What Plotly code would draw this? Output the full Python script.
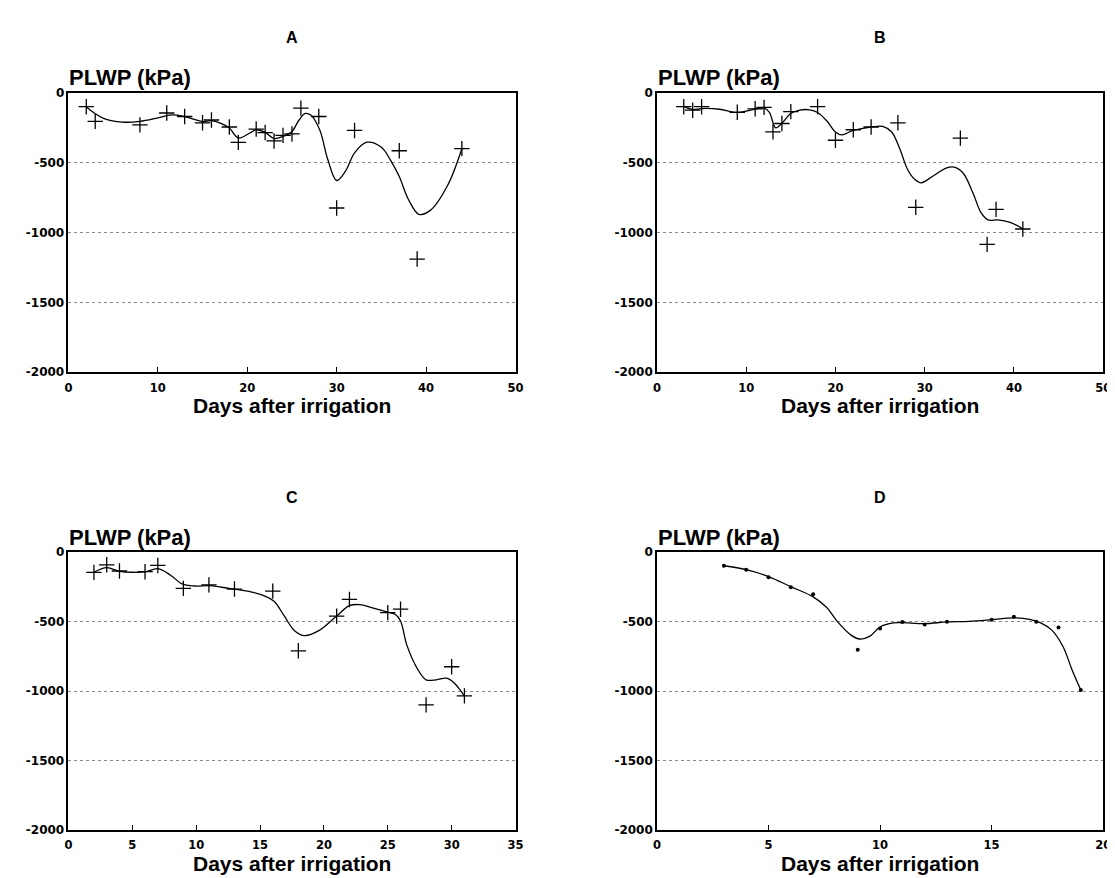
import plotly.graph_objects as go

# ---------------- data ----------------
# Panel A
A_days = [2, 3, 8, 11, 13, 15, 16, 18, 19, 21, 22, 23, 24, 25, 26, 28, 30, 32, 37, 39, 44]
A_plwp = [-100, -205, -230, -145, -170, -215, -195, -245, -355, -260, -285, -345, -305, -295,
          -110, -170, -825, -270, -415, -1190, -400]
A_fit_days = [2, 3, 4, 6, 8, 10, 11.5, 13, 15, 16, 17, 18, 19, 20.3, 21, 22, 23, 24, 25, 25.8,
              26.5, 27.1, 28.1, 29, 30, 31, 32, 33.4, 35, 36, 37, 38, 39.2, 40.5, 42.4, 44]
A_fit = [-100, -150, -185, -210, -205, -180, -159, -171, -206, -199, -218, -253, -324, -288,
         -265, -284, -328, -312, -277, -195, -148, -160, -265, -476, -628, -560, -430, -354,
         -390, -480, -600, -760, -870, -840, -664, -401]

# Panel B
B_days = [3, 4, 5, 9, 11, 12, 13, 14, 15, 18, 20, 22, 24, 27, 29, 34, 37, 38, 41]
B_plwp = [-100, -125, -100, -140, -115, -105, -280, -220, -135, -100, -340, -265, -245, -215,
          -820, -325, -1085, -835, -975]
B_fit_days = [3, 4, 5, 7, 9, 10.5, 12, 12.6, 13.3, 14, 15, 16, 17.1, 18, 19, 20, 20.7, 22, 24,
              25.3, 26.3, 27.2, 28.1, 28.9, 29.6, 30.9, 32.4, 33.3, 34.3, 35.4, 36.3, 37.1, 38.2,
              39.5, 41]
B_fit = [-98, -120, -113, -118, -141, -124, -110, -140, -251, -218, -148, -124, -122, -141, -199,
         -281, -302, -270, -246, -241, -281, -399, -551, -621, -645, -598, -539, -532, -574,
         -715, -856, -910, -910, -926, -973]

# Panel C
C_days = [2, 3, 4, 6, 7, 9, 11, 13, 16, 18, 21, 22, 25, 26, 28, 30, 31]
C_plwp = [-145, -90, -135, -140, -95, -260, -235, -265, -280, -710, -460, -340, -435, -410,
          -1100, -825, -1035]
C_fit_days = [2, 3, 4, 5, 6, 7, 8, 8.9, 9.9, 11, 12, 13, 14.2, 15.3, 16.1, 16.9, 17.7, 18.5,
              19.6, 21, 22, 22.8, 23.8, 25, 25.6, 26, 26.5, 27.3, 28, 28.8, 29.6, 30.2, 31]
C_fit = [-144, -111, -137, -144, -141, -118, -165, -228, -243, -240, -252, -266, -283, -313,
         -353, -459, -565, -601, -565, -459, -384, -377, -400, -431, -448, -495, -671, -836,
         -919, -919, -907, -942, -1036]

# Panel D
D_days = [3, 4, 5, 6, 7, 9, 10, 11, 12, 13, 15, 16, 17, 18, 19]
D_plwp = [-97, -125, -179, -252, -302, -703, -550, -502, -521, -500, -486, -465, -500, -542, -993]
D_fit_days = [3, 4, 5, 6, 7, 7.6, 8.1, 8.7, 9.1, 9.55, 10, 10.6, 11, 12, 13, 14, 15, 16, 16.7,
              17.2, 17.7, 18.2, 18.6, 19]
D_fit = [-97, -125, -175, -248, -321, -396, -502, -597, -625, -604, -538, -509, -507, -514,
         -502, -498, -486, -472, -483, -509, -561, -679, -844, -993]

# ticks / labels
y_tickvals = [-2000, -1500, -1000, -500, 0]
y_ticktext = ["-2000", "-1500", "-1000", "-500", "0"]
x_ticks_AB = [0, 10, 20, 30, 40, 50]
x_ticks_C = [0, 5, 10, 15, 20, 25, 30, 35]
x_ticks_D = [0, 5, 10, 15, 20]
panel_letters = ["A", "B", "C", "D"]
y_title = "PLWP (kPa)"
x_title = "Days after irrigation"

# ---------------- figure ----------------
W, H = 1115, 878
FONT = "Arial, 'Liberation Sans', Helvetica, sans-serif"
NUMFONT = "'DejaVu Sans', Arial, sans-serif"

# panel pixel boxes (left, right, top, bottom)
boxes = [(57, 509, 79, 363), (652, 1103, 79, 363), (57, 509, 546, 828), (652, 1103, 546, 828)]
obs = [(A_days, A_plwp), (B_days, B_plwp), (C_days, C_plwp), (D_days, D_plwp)]
fits = [(A_fit_days, A_fit), (B_fit_days, B_fit), (C_fit_days, C_fit), (D_fit_days, D_fit)]
xticks = [x_ticks_AB, x_ticks_AB, x_ticks_C, x_ticks_D]

fig = go.Figure()
annotations = []
layout = {}
for i in range(4):
    l, r, t, b = boxes[i]
    suffix = "" if i == 0 else str(i + 1)
    xa, ya = "x" + suffix, "y" + suffix
    dots = i == 3
    fig.add_trace(go.Scatter(
        x=fits[i][0], y=fits[i][1], xaxis=xa, yaxis=ya, mode="lines",
        line=dict(color="black", width=1.3, shape="spline", smoothing=1.0),
        showlegend=False, hoverinfo="skip"))
    fig.add_trace(go.Scatter(
        x=obs[i][0], y=obs[i][1], xaxis=xa, yaxis=ya, mode="markers",
        marker=(dict(symbol="circle", size=4, color="black") if dots else
                dict(symbol="cross-thin-open", size=11, color="black",
                     line=dict(color="black", width=1.3))),
        showlegend=False))
    xt = xticks[i]
    layout["xaxis" + suffix] = dict(
        domain=[l / W, r / W], range=[xt[0], xt[-1]], anchor=ya,
        tickvals=xt, ticktext=[str(v) for v in xt],
        ticks="inside", ticklen=5, tickwidth=1.2, tickcolor="black",
        ticklabelstandoff=4,
        showline=True, mirror=True, linecolor="black", linewidth=1.5,
        showgrid=False, zeroline=False,
        tickfont=dict(family=NUMFONT, size=11.5, color="black", weight="bold"))
    layout["yaxis" + suffix] = dict(
        domain=[1 - b / H, 1 - t / H], range=[-2000, 0], anchor=xa,
        tickvals=y_tickvals, ticktext=y_ticktext, ticks="",
        showline=True, mirror=True, linecolor="black", linewidth=1.5,
        showgrid=True, gridcolor="#8a8a8a", griddash="dot", gridwidth=1,
        zeroline=False,
        tickfont=dict(family=NUMFONT, size=12, color="black", weight="bold"))
    cx = (l + r) / 2 / W
    annotations.append(dict(
        text=panel_letters[i], x=cx, y=1 - (t - 56) / H, xref="paper", yref="paper",
        xanchor="center", yanchor="middle", showarrow=False,
        font=dict(family=FONT, size=16, color="black", weight="bold")))
    annotations.append(dict(
        text=y_title, x=(l - 1) / W, y=1 - (t - 15) / H, xref="paper", yref="paper",
        xanchor="left", yanchor="middle", showarrow=False,
        font=dict(family=FONT, size=22, color="black", weight="bold")))
    annotations.append(dict(
        text=x_title, x=cx, y=1 - (b + 34) / H, xref="paper", yref="paper",
        xanchor="center", yanchor="middle", showarrow=False,
        font=dict(family=FONT, size=21, color="black", weight="bold")))

fig.update_layout(
    width=W, height=H, autosize=False,
    margin=dict(l=0, r=0, t=0, b=0),
    paper_bgcolor="white", plot_bgcolor="white",
    annotations=annotations, **layout)

fig.write_html("out.html")
